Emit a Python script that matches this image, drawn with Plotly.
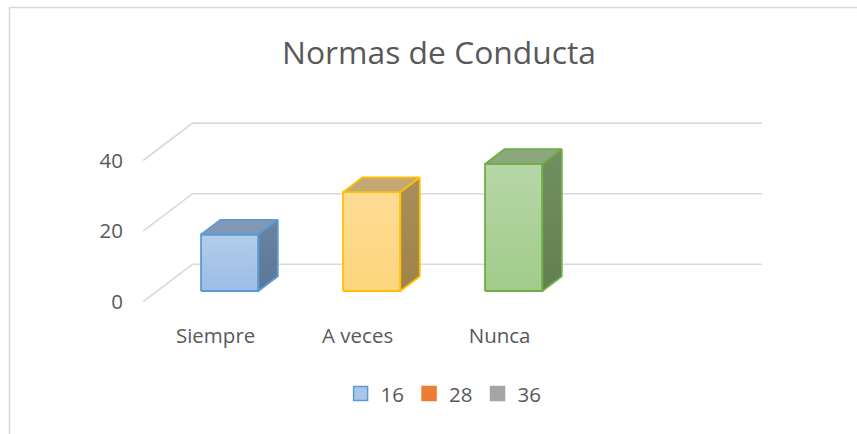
import plotly.graph_objects as go

# ---- data ----
categories = ["Siempre", "A veces", "Nunca"]
values = [16, 28, 36]
series_names = ["16", "28", "36"]
y_ticks = [0, 20, 40]

# ---- styling ----
front_grad = [["#9dbde6", "#b2cdeb"], ["#fdd57c", "#fedc96"], ["#a2cb8a", "#b6d7a6"]]
top_col = ["#8298b4", "#c3a874", "#8ca67e"]
side_grad = [["#5b7797", "#6a84a2"], ["#9e844a", "#a88f5a"], ["#627f50", "#71905f"]]
edge_col = ["#5b9bd5", "#ffc000", "#70ad47"]
legend_fill = ["#a9c6ea", "#ed7d31", "#a5a5a5"]
legend_line = ["#5b9bd5", "#ed7d31", "#a5a5a5"]
grid_col = "#d9d9d9"
text_col = "#595959"

# geometry of the oblique 3D projection (data units)
PX_PER_X = 142.0
PX_PER_Y = 3.53
DX = 49.3 / PX_PER_X     # depth offset along x
DY = 37.4 / PX_PER_Y     # depth offset along y
D0, D1 = 0.286, 0.68     # bar front / back depth fraction
HW = 0.2018              # half bar width
X_LEFT, X_RIGHT = -0.51, 3.5

W, H = 857, 434
L, R, T, B = 130, 800, 100, 321
x0 = (L - 215.6) / PX_PER_X
x1 = (R - 215.6) / PX_PER_X
y0 = (301.7 - B) / PX_PER_Y
y1 = (301.7 - T) / PX_PER_Y

fig = go.Figure()

# gridlines (floor diagonal + back wall)
for v in y_ticks:
    fig.add_trace(go.Scatter(
        x=[X_LEFT, X_LEFT + DX, X_RIGHT + DX],
        y=[v, v + DY, v + DY],
        mode="lines", line=dict(color=grid_col, width=1.6),
        showlegend=False, hoverinfo="skip"))

# bars
for i, (cat, val) in enumerate(zip(categories, values)):
    xl = i - HW
    xr = i + HW
    # front face
    fig.add_trace(go.Scatter(
        x=[xl + D0 * DX, xr + D0 * DX, xr + D0 * DX, xl + D0 * DX, xl + D0 * DX],
        y=[D0 * DY, D0 * DY, val + D0 * DY, val + D0 * DY, D0 * DY],
        mode="lines", fill="toself",
        fillgradient=dict(type="vertical", colorscale=[[0, front_grad[i][0]], [1, front_grad[i][1]]]),
        line=dict(color=edge_col[i], width=1.8),
        showlegend=False, hoverinfo="skip"))
    # top face
    fig.add_trace(go.Scatter(
        x=[xl + D0 * DX, xr + D0 * DX, xr + D1 * DX, xl + D1 * DX, xl + D0 * DX],
        y=[val + D0 * DY, val + D0 * DY, val + D1 * DY, val + D1 * DY, val + D0 * DY],
        mode="lines", fill="toself", fillcolor=top_col[i],
        line=dict(color=edge_col[i], width=1.8),
        showlegend=False, hoverinfo="skip"))
    # side face
    fig.add_trace(go.Scatter(
        x=[xr + D0 * DX, xr + D0 * DX, xr + D1 * DX, xr + D1 * DX, xr + D0 * DX],
        y=[D0 * DY, val + D0 * DY, val + D1 * DY, D1 * DY, D0 * DY],
        mode="lines", fill="toself",
        fillgradient=dict(type="vertical", colorscale=[[0, side_grad[i][0]], [1, side_grad[i][1]]]),
        line=dict(color=edge_col[i], width=1.8),
        showlegend=False, hoverinfo="skip"))

# legend entries
for name, fc, lc in zip(series_names, legend_fill, legend_line):
    fig.add_trace(go.Scatter(
        x=[None], y=[None], mode="markers", name=name,
        marker=dict(symbol="square", size=14, color=fc, line=dict(color=lc, width=1.5))))

# chart border
fig.add_shape(type="rect", xref="paper", yref="paper",
              x0=(9.5 - L) / (R - L), x1=(880 - L) / (R - L),
              y0=(B - 460) / (B - T), y1=(B - 7.5) / (B - T),
              line=dict(color=grid_col, width=1.6), fillcolor="rgba(0,0,0,0)", layer="below")

fig.update_layout(
    width=W, height=H,
    margin=dict(l=L, r=W - R, t=T, b=H - B, pad=0),
    paper_bgcolor="white", plot_bgcolor="white",
    font=dict(family="Open Sans", color=text_col, size=20),
    title=dict(text="Normas de Conducta", x=439 / W, xanchor="center",
               y=1 - 53 / H, yanchor="middle", yref="container",
               font=dict(size=31.8, color=text_col, family="Open Sans")),
    xaxis=dict(range=[x0, x1], tickvals=list(range(len(categories))), ticktext=categories,
               showgrid=False, zeroline=False, showline=False, ticks="",
               tickfont=dict(size=20.5, color=text_col)),
    yaxis=dict(range=[y0, y1], tickvals=y_ticks, showgrid=False, zeroline=False,
               showline=False, ticks="", ticklabelstandoff=6,
               tickfont=dict(size=20.5, color=text_col)),
    legend=dict(orientation="h", x=(443.6 - L) / (R - L), xanchor="center",
                y=(B - 393.7) / (B - T), yanchor="middle",
                font=dict(size=20.5, color=text_col), itemwidth=30,
                bgcolor="rgba(0,0,0,0)"),
    showlegend=True,
)

fig.write_html("out.html", config={"displayModeBar": False},
               post_script="document.body.style.margin='0';")
